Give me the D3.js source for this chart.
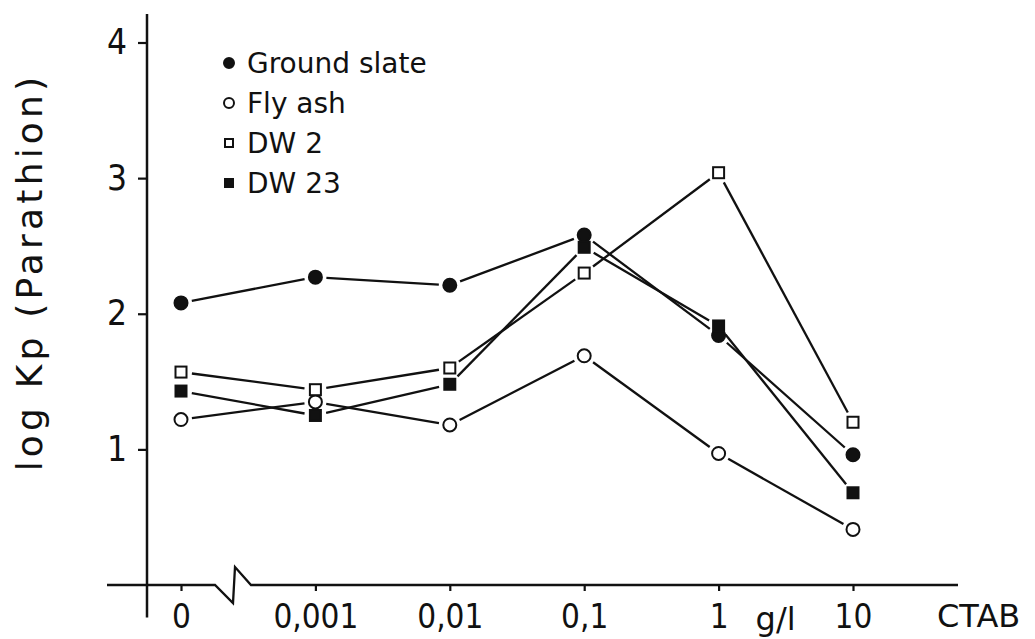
<!DOCTYPE html>
<html>
<head>
<meta charset="utf-8">
<script src="https://cdn.jsdelivr.net/npm/d3@7"></script>
<style>
  body { margin: 0; background: #fff; }
  svg { display: block; background: #fff; }
  text { font-family: "DejaVu Sans", sans-serif; fill: #111; }
  .tick-label { font-family: "DejaVu Sans Condensed", "DejaVu Sans", sans-serif; }
</style>
</head>
<body>
<svg width="1035" height="639"></svg>
<script>
// Chart data
const categories = ["0", "0,001", "0,01", "0,1", "1", "10"];
const seriesNames = ["Ground slate", "Fly ash", "DW 2", "DW 23"];
const groundSlate = [2.08, 2.27, 2.21, 2.58, 1.84, 0.96];
const flyAsh = [1.22, 1.35, 1.18, 1.69, 0.97, 0.41];
const dw2 = [1.57, 1.44, 1.60, 2.30, 3.04, 1.20];
const dw23 = [1.43, 1.25, 1.48, 2.49, 1.91, 0.68];
const yTicks = [1, 2, 3, 4];
const yTitle = "log Kp (Parathion)";
const xUnit = "g/l";
const xTitle = "CTAB";

const series = [
  { name: seriesNames[0], values: groundSlate, marker: "filledCircle" },
  { name: seriesNames[1], values: flyAsh, marker: "openCircle" },
  { name: seriesNames[2], values: dw2, marker: "openSquare" },
  { name: seriesNames[3], values: dw23, marker: "filledSquare" }
];

const svg = d3.select("svg");

// Scales
const x = d3.scalePoint().domain(categories).range([181, 853]);
const y = d3.scaleLinear().domain([0, 4]).range([585, 42.5]);
const x0 = y(0), axisX = 147;

// Y axis (custom vertical line that runs past the x axis)
const yAxis = svg.append("g")
  .attr("transform", `translate(${axisX},0)`)
  .call(d3.axisLeft(y).tickValues(yTicks).tickSize(9).tickPadding(11).tickFormat(d3.format("d")));
yAxis.select(".domain").remove();
yAxis.selectAll(".tick line").attr("stroke", "#111").attr("stroke-width", 2.2);
yAxis.selectAll(".tick text")
  .attr("class", "tick-label")
  .style("font-size", "35px");
svg.append("line")
  .attr("x1", axisX).attr("x2", axisX)
  .attr("y1", y(4.21)).attr("y2", y(-0.24))
  .attr("stroke", "#111").attr("stroke-width", 2.5);

// X axis
const xAxis = svg.append("g")
  .attr("transform", `translate(0,${x0})`)
  .call(d3.axisBottom(x).tickSize(6).tickPadding(14));
xAxis.select(".domain").remove();
xAxis.selectAll(".tick line").attr("stroke", "#111").attr("stroke-width", 2.2);
xAxis.selectAll(".tick text")
  .attr("class", "tick-label")
  .style("font-size", "33px");

// X axis line with the break mark after 0
const bx = x(categories[0]);
const axisPath = d3.line()([
  [axisX - 40, x0], [bx + 34, x0], [bx + 52, x0 + 18],
  [bx + 54, x0 - 18], [bx + 70, x0], [x(categories[5]) + 105, x0]
]);
svg.append("path")
  .attr("d", axisPath)
  .attr("fill", "none")
  .attr("stroke", "#111")
  .attr("stroke-width", 2.3)
  .attr("stroke-linejoin", "miter");

// Unit and axis titles
svg.append("text")
  .attr("x", x(categories[4]) + 37).attr("y", 630)
  .style("font-size", "32px")
  .text(xUnit);
svg.append("text")
  .attr("x", 937).attr("y", 627)
  .style("font-size", "32px")
  .text(xTitle);
svg.append("text")
  .attr("transform", "translate(42,272) rotate(-90)")
  .attr("text-anchor", "middle")
  .style("font-size", "36px")
  .style("letter-spacing", "4.2px")
  .text(yTitle);

// Draw a marker of a given type
function drawMarker(g, type, cx, cy, s) {
  if (type === "filledCircle" || type === "openCircle") {
    g.append("circle")
      .attr("cx", cx).attr("cy", cy).attr("r", s / 2)
      .attr("fill", type === "filledCircle" ? "#111" : "#fff")
      .attr("stroke", "#111").attr("stroke-width", 2);
  } else {
    g.append("rect")
      .attr("x", cx - s / 2).attr("y", cy - s / 2)
      .attr("width", s).attr("height", s)
      .attr("fill", type === "filledSquare" ? "#111" : "#fff")
      .attr("stroke", "#111").attr("stroke-width", 2);
  }
}

// Lines: segments stop short of the markers
const gap = 11;
const plot = svg.append("g");
series.forEach(s => {
  const pts = s.values.map((v, i) => [x(categories[i]), y(v)]);
  for (let i = 0; i < pts.length - 1; i++) {
    const [ax, ay] = pts[i], [cx, cy] = pts[i + 1];
    const len = Math.hypot(cx - ax, cy - ay);
    const ux = (cx - ax) / len, uy = (cy - ay) / len;
    plot.append("line")
      .attr("x1", ax + ux * gap).attr("y1", ay + uy * gap)
      .attr("x2", cx - ux * gap).attr("y2", cy - uy * gap)
      .attr("stroke", "#111").attr("stroke-width", 2.3);
  }
});

// Markers
series.forEach(s => {
  const sz = s.marker.endsWith("Square") ? 11 : 13;
  s.values.forEach((v, i) => drawMarker(plot, s.marker, x(categories[i]), y(v), sz));
});

// Legend
const legend = svg.append("g");
series.forEach((s, i) => {
  const cy = 63 + i * 40;
  const sz = s.marker.endsWith("Square") ? 8 : 10;
  drawMarker(legend, s.marker, 229, cy, sz);
  legend.append("text")
    .attr("x", 247).attr("y", cy + 10)
    .style("font-size", "28px")
    .text(s.name);
});
</script>
</body>
</html>
